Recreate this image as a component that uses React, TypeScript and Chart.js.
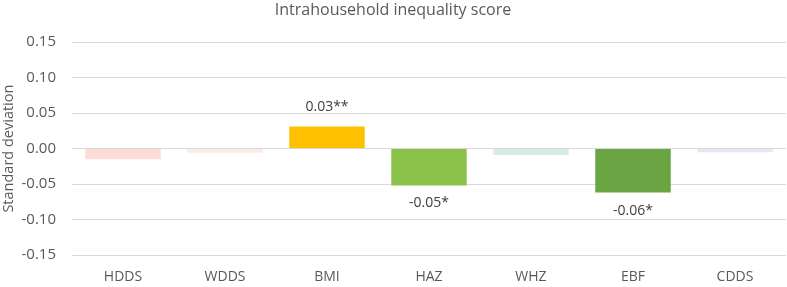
import React, { useEffect, useRef } from "react";
import { Chart, registerables } from "chart.js";

Chart.register(...registerables);

const categories = ["HDDS", "WDDS", "BMI", "HAZ", "WHZ", "EBF", "CDDS"];
const values = [-0.015, -0.006, 0.031, -0.052, -0.009, -0.062, -0.005];
const valueLabels = ["", "", "0.03**", "-0.05*", "", "-0.06*", ""];
const barColors = ["#FBDDD5", "#FDEBE1", "#FFC000", "#8BC34A", "#D6ECE4", "#6AA443", "#E4E8F5"];
const yTicks = [-0.15, -0.1, -0.05, 0, 0.05, 0.1, 0.15];
const titleText = "Intrahousehold inequality score";
const yTitleText = "Standard deviation";

const FONT = "'Open Sans', sans-serif";
const TEXT = "#595959";

const labelPlugin = {
  id: "barValueLabels",
  afterDatasetsDraw(chart: any) {
    const ctx = chart.ctx;
    const meta = chart.getDatasetMeta(0);
    ctx.save();
    ctx.font = `14px ${FONT}`;
    ctx.fillStyle = "#404040";
    ctx.textAlign = "center";
    ctx.textBaseline = "middle";
    meta.data.forEach((bar: any, i: number) => {
      const txt = valueLabels[i];
      if (!txt) return;
      const v = values[i];
      const y = v >= 0 ? bar.y - 20 : bar.y + 18;
      ctx.fillText(txt, bar.x, y);
    });
    ctx.restore();
  },
};

export default function App() {
  const ref = useRef<HTMLCanvasElement | null>(null);
  useEffect(() => {
    if (!ref.current) return;
    const chart = new Chart(ref.current, {
      type: "bar",
      data: {
        labels: categories,
        datasets: [
          {
            data: values,
            backgroundColor: barColors,
            barPercentage: 0.74,
            categoryPercentage: 1,
          },
        ],
      },
      options: {
        animation: false,
        responsive: true,
        maintainAspectRatio: false,
        layout: { padding: { left: 0, right: 1, top: 0, bottom: 0 } },
        plugins: {
          legend: { display: false },
          tooltip: { enabled: false },
          title: {
            display: true,
            text: titleText,
            color: TEXT,
            font: { family: FONT, size: 16, weight: "normal" },
            padding: { top: 1, bottom: 22 },
          },
        },
        scales: {
          x: {
            grid: { display: false },
            border: { display: false },
            ticks: { color: TEXT, font: { family: FONT, size: 14 }, padding: 6 },
            afterFit: (s: any) => {
              s.height = 32;
            },
          },
          y: {
            min: -0.15,
            max: 0.15,
            afterBuildTicks: (s: any) => {
              s.ticks = yTicks.map((v) => ({ value: v }));
            },
            grid: { color: "#D9D9D9", lineWidth: 1, drawTicks: false },
            border: { display: false },
            ticks: {
              color: TEXT,
              font: { family: FONT, size: 15 },
              padding: 16,
              callback: (v: any) => Number(v).toFixed(2),
            },
            title: {
              display: true,
              text: yTitleText,
              color: TEXT,
              font: { family: FONT, size: 14.5 },
              padding: { top: 0, bottom: 0 },
            },
            afterFit: (s: any) => {
              s.width = 72;
            },
          },
        },
      },
      plugins: [labelPlugin],
    });
    return () => chart.destroy();
  }, []);
  return (
    <div style={{ position: "absolute", left: 0, top: 0, width: 787, height: 287 }}>
      <canvas ref={ref} />
    </div>
  );
}
